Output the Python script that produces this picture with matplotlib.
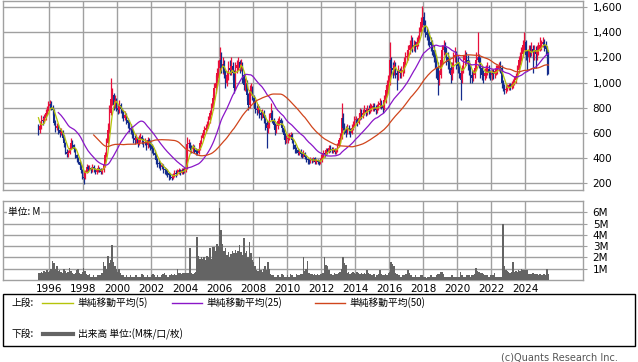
import numpy as np
import pandas as pd
import matplotlib
matplotlib.use("Agg")
import matplotlib.pyplot as plt
from matplotlib.patches import Rectangle
from matplotlib.lines import Line2D

plt.rcParams["font.family"] = ["DejaVu Sans", "Noto Sans CJK JP"]

# monthly bars, first month = 1994-07 (first 10 months only feed the moving averages)
start_year = 1994.5
first_shown = 10

close = [
    880, 900, 920, 890, 870, 860,
    840, 780, 700, 660, 620, 650, 700, 690, 720, 760, 780, 810,
    830, 800, 780, 680, 640, 650, 620, 600, 610, 560, 520, 450,
    430, 440, 480, 520, 500, 470, 420, 400, 370, 340, 300, 250,
    240, 290, 330, 310, 320, 300, 330, 310, 290, 300, 320, 310,
    290, 300, 340, 420, 520, 620, 760, 870, 900, 820, 860, 800,
    780, 820, 790, 760, 720, 740, 700, 680, 640, 620, 600, 560,
    540, 560, 520, 550, 570, 540, 520, 530, 500, 540, 520, 500,
    470, 440, 420, 380, 360, 350, 330, 340, 310, 300, 290, 280,
    260, 250, 240, 260, 280, 270, 290, 300, 280, 300, 290, 310,
    320, 510, 520, 480, 470, 490, 460, 450, 440, 470, 520, 560,
    600, 620, 640, 660, 700, 760, 800, 880, 960, 1000, 1080, 1120,
    1180, 1120, 1150, 1080, 1000, 1060, 1120, 1100, 1130, 1080, 960, 1120,
    1140, 1160, 1120, 1150, 1060, 980, 1000, 900, 820, 940, 960, 880,
    840, 790, 780, 800, 760, 740, 760, 720, 680, 640, 660, 720,
    760, 700, 660, 620, 650, 690, 700, 680, 640, 580, 540, 550,
    560, 570, 580, 540, 500, 470, 460, 440, 450, 430, 420, 440,
    410, 390, 380, 370, 390, 380, 400, 370, 380, 370, 360, 380,
    420, 440, 430, 460, 450, 480, 470, 460, 470, 450, 460, 500,
    540, 560, 720, 640, 620, 600, 640, 620, 600, 640, 660, 700,
    700, 680, 720, 760, 740, 760, 780, 760, 790, 780, 800, 800,
    810, 800, 780, 800, 820, 840, 820, 800, 860, 940, 980, 1000,
    1180, 1120, 1100, 1140, 1080, 1060, 1100, 1080, 1090, 1100, 1160, 1200,
    1210, 1260, 1300, 1320, 1280, 1300, 1280, 1320, 1340, 1400, 1480, 1520,
    1460, 1400, 1380, 1360, 1320, 1300, 1260, 1200, 1180, 1120, 1020, 1060,
    1180, 1260, 1290, 1240, 1200, 1160, 1120, 1060, 1100, 1200, 1220, 1150,
    1130, 1080, 1020, 1100, 1180, 1210, 1180, 1160, 1100, 1060, 1040, 1060,
    1120, 1180, 1200, 1160, 1120, 1060, 1050, 1080, 1100, 1110, 1080, 1060,
    1080, 1070, 1090, 1100, 1110, 1130, 1120, 1000, 960, 940, 950, 960,
    980, 970, 990, 1000, 1020, 1050, 1100, 1180, 1200, 1230, 1300, 1320,
    1220, 1200, 1260, 1250, 1270, 1240, 1260, 1230, 1260, 1270, 1300, 1310,
    1320, 1300, 1270, 1250, 1090,
]

high = [
    900, 930, 950, 930, 900, 880,
    870, 850, 790, 710, 670, 690, 740, 730, 750, 790, 810, 850,
    864, 850, 820, 790, 700, 680, 670, 640, 640, 620, 580, 530,
    470, 460, 500, 560, 540, 510, 480, 430, 410, 380, 350, 310,
    270, 300, 350, 340, 340, 330, 350, 340, 320, 320, 340, 330,
    320, 320, 360, 450, 560, 680, 820, 1040, 960, 920, 900, 880,
    830, 860, 840, 800, 780, 770, 760, 720, 700, 670, 650, 620,
    580, 590, 570, 580, 600, 580, 560, 560, 540, 570, 560, 540,
    510, 490, 460, 430, 400, 380, 370, 360, 350, 330, 320, 310,
    290, 280, 270, 280, 300, 300, 310, 320, 310, 320, 320, 330,
    340, 568, 550, 530, 500, 510, 500, 480, 470, 490, 540, 580,
    620, 650, 670, 690, 730, 780, 840, 910, 1000, 1060, 1120, 1180,
    1280, 1240, 1200, 1180, 1100, 1090, 1170, 1180, 1200, 1160, 1100, 1160,
    1180, 1200, 1180, 1190, 1160, 1080, 1040, 1020, 920, 980, 1000, 970,
    900, 860, 820, 830, 810, 780, 790, 780, 740, 700, 690, 760,
    840, 780, 720, 680, 670, 720, 730, 720, 700, 650, 600, 580,
    590, 600, 610, 600, 550, 510, 490, 480, 470, 470, 450, 460,
    450, 420, 400, 400, 410, 400, 410, 410, 390, 390, 380, 400,
    440, 460, 460, 480, 480, 500, 500, 490, 490, 480, 480, 520,
    560, 600, 840, 760, 680, 650, 670, 660, 640, 670, 690, 730,
    730, 720, 760, 800, 790, 790, 820, 800, 820, 820, 840, 830,
    840, 840, 820, 830, 850, 880, 860, 840, 900, 980, 1020, 1060,
    1320, 1200, 1160, 1180, 1160, 1100, 1140, 1120, 1130, 1140, 1200, 1240,
    1260, 1300, 1340, 1380, 1360, 1340, 1330, 1360, 1380, 1440, 1520, 1608,
    1560, 1500, 1440, 1420, 1400, 1360, 1340, 1300, 1260, 1220, 1160, 1100,
    1220, 1300, 1340, 1320, 1280, 1240, 1200, 1160, 1160, 1240, 1280, 1250,
    1200, 1160, 1120, 1140, 1220, 1260, 1240, 1220, 1180, 1140, 1100, 1100,
    1160, 1240, 1400, 1230, 1200, 1140, 1100, 1120, 1140, 1160, 1140, 1100,
    1110, 1110, 1120, 1140, 1140, 1160, 1170, 1140, 1020, 990, 980, 990,
    1000, 1000, 1010, 1030, 1050, 1080, 1140, 1210, 1240, 1280, 1340, 1400,
    1340, 1260, 1300, 1300, 1320, 1300, 1300, 1290, 1300, 1320, 1360, 1340,
    1360, 1350, 1330, 1290, 1260,
]

low = [
    850, 870, 890, 870, 850, 840,
    820, 760, 680, 640, 580, 600, 630, 660, 680, 700, 740, 770,
    790, 780, 740, 660, 610, 620, 590, 570, 580, 540, 490, 430,
    410, 410, 430, 470, 480, 450, 400, 370, 350, 320, 280, 230,
    190, 230, 280, 290, 300, 280, 290, 290, 270, 270, 290, 290,
    270, 270, 290, 330, 410, 510, 600, 740, 820, 780, 800, 770,
    750, 760, 760, 720, 690, 700, 670, 640, 610, 590, 560, 520,
    510, 520, 490, 500, 530, 510, 490, 500, 460, 480, 490, 460,
    440, 420, 390, 350, 330, 320, 300, 310, 280, 270, 260, 250,
    224, 230, 220, 230, 250, 250, 260, 270, 260, 270, 270, 280,
    290, 310, 480, 460, 440, 450, 440, 420, 420, 430, 460, 510,
    550, 580, 600, 620, 640, 680, 740, 780, 860, 920, 970, 1040,
    1080, 1080, 1070, 1040, 960, 970, 1020, 1060, 1060, 1020, 920, 940,
    1080, 1100, 1080, 1090, 1000, 940, 930, 860, 780, 800, 900, 860,
    800, 760, 740, 760, 720, 700, 720, 680, 620, 480, 600, 640,
    700, 680, 640, 580, 600, 630, 660, 650, 610, 550, 510, 520,
    520, 540, 550, 520, 470, 440, 440, 420, 420, 410, 400, 410,
    390, 370, 350, 350, 360, 360, 370, 350, 350, 350, 340, 350,
    370, 400, 410, 420, 430, 440, 450, 440, 440, 430, 430, 450,
    490, 520, 550, 620, 590, 570, 590, 590, 570, 590, 620, 650,
    660, 650, 670, 700, 710, 720, 740, 730, 740, 750, 760, 770,
    770, 770, 750, 760, 780, 800, 790, 760, 780, 840, 900, 940,
    980, 1060, 1040, 1060, 1040, 940, 1020, 1040, 1040, 1050, 1080, 1140,
    1160, 1180, 1230, 1260, 1240, 1250, 1240, 1270, 1290, 1320, 1380, 1440,
    1400, 1360, 1340, 1300, 1280, 1250, 1220, 1160, 1120, 1040, 904, 980,
    1040, 1140, 1220, 1200, 1140, 1110, 1080, 1000, 1020, 1080, 1160, 1110,
    1080, 1040, 864, 1000, 1080, 1140, 1140, 1100, 1060, 1000, 1000, 1010,
    1040, 1100, 1160, 1120, 1040, 1020, 1000, 1020, 1040, 1060, 1040, 1020,
    1020, 1030, 1040, 1060, 1070, 1090, 1080, 960, 930, 910, 920, 930,
    940, 940, 950, 960, 980, 1000, 1040, 1080, 1140, 1170, 1210, 1260,
    1180, 1100, 1160, 1200, 1210, 1080, 1180, 1120, 1180, 1220, 1250, 1260,
    1280, 1250, 1220, 1060, 1070,
]

# volume in millions of shares
volume = [
    0.6, 0.6, 0.6, 0.6, 0.6, 0.6,
    0.6, 0.6, 0.6, 0.6, 0.6, 0.6, 0.7, 0.6, 0.8, 0.7, 0.9, 0.7,
    0.8, 1.0, 1.7, 1.5, 1.0, 1.2, 0.8, 0.9, 0.7, 0.6, 1.0, 0.8,
    0.6, 0.7, 1.1, 0.8, 0.6, 0.5, 0.6, 0.9, 1.0, 0.6, 0.5, 0.7,
    1.1, 0.8, 0.5, 0.4, 0.5, 0.3, 0.3, 0.4, 0.3, 0.3, 0.4, 0.4,
    0.4, 0.6, 1.6, 1.2, 1.0, 2.1, 1.5, 1.8, 3.1, 1.6, 1.2, 1.0,
    0.7, 1.0, 0.6, 0.4, 0.4, 0.3, 0.4, 0.3, 0.3, 0.4, 0.3, 0.3,
    0.3, 0.4, 0.3, 0.3, 0.3, 0.5, 0.4, 0.3, 0.3, 0.4, 0.3, 0.3,
    0.4, 0.5, 0.4, 0.3, 0.4, 0.3, 0.3, 0.4, 0.5, 0.6, 0.4, 0.3,
    0.3, 0.4, 0.5, 0.4, 0.5, 0.4, 1.0, 0.6, 0.6, 0.5, 0.6, 0.6,
    0.6, 0.6, 0.6, 2.8, 0.6, 0.5, 0.6, 0.7, 3.8, 2.1, 1.9, 2.0,
    1.9, 2.0, 1.8, 2.1, 2.0, 2.8, 1.9, 2.9, 2.9, 2.6, 3.2, 3.0,
    6.4, 4.4, 3.2, 2.6, 2.8, 2.2, 2.5, 2.0, 2.3, 2.6, 2.4, 2.7,
    2.4, 2.6, 3.1, 2.5, 2.2, 3.7, 2.4, 2.6, 2.0, 3.4, 2.4, 1.8,
    1.6, 1.2, 0.9, 0.8, 2.0, 0.9, 0.7, 1.0, 1.2, 0.9, 1.6, 1.0,
    0.5, 0.4, 0.4, 0.3, 0.3, 0.4, 0.3, 0.3, 0.5, 0.4, 0.3, 0.3,
    0.4, 0.3, 0.5, 0.4, 0.3, 0.3, 0.5, 0.4, 0.4, 0.5, 0.5, 2.0,
    0.8, 1.0, 1.7, 0.6, 0.5, 0.5, 0.4, 0.5, 0.4, 0.5, 0.4, 0.5,
    0.5, 0.6, 2.0, 1.3, 1.2, 0.9, 0.5, 0.5, 0.4, 0.6, 0.5, 0.5,
    0.6, 0.7, 1.0, 2.0, 1.5, 1.3, 0.6, 0.7, 0.5, 0.6, 0.7, 0.6,
    0.5, 0.7, 0.6, 0.5, 0.6, 0.5, 0.6, 0.5, 0.9, 0.6, 0.5, 0.4,
    0.4, 0.5, 0.3, 0.4, 0.5, 0.9, 0.5, 0.4, 0.4, 0.5, 0.4, 0.6,
    0.7, 1.6, 1.4, 1.2, 0.6, 0.5, 0.4, 0.4, 0.3, 0.4, 0.4, 0.5,
    0.5, 0.9, 0.6, 0.4, 0.3, 0.3, 0.4, 0.3, 0.3, 0.3, 0.4, 0.4,
    0.3, 0.3, 0.2, 0.3, 0.3, 0.4, 0.3, 0.3, 0.3, 0.4, 0.5, 0.5,
    0.7, 0.7, 0.5, 0.3, 0.3, 0.3, 0.3, 0.3, 0.4, 0.3, 0.3, 0.3,
    0.3, 0.3, 0.7, 0.4, 0.3, 0.3, 0.4, 0.4, 0.4, 0.3, 0.4, 0.4,
    0.5, 1.1, 0.8, 0.7, 0.6, 0.6, 0.5, 0.4, 0.4, 0.4, 0.3, 0.4,
    0.4, 0.4, 0.6, 0.3, 0.3, 0.3, 0.3, 0.3, 5.0, 1.2, 0.9, 0.8,
    0.7, 0.6, 0.7, 1.6, 0.7, 0.8, 0.7, 0.9, 0.8, 1.0, 0.9, 0.9,
    0.9, 0.9, 0.5, 0.5, 0.5, 0.6, 0.5, 0.5, 0.5, 0.4, 0.5, 0.4,
    0.4, 0.5, 0.4, 1.0, 0.5,
]

ma_windows = [5, 25, 50]
ma_colors = ["#b5c40a", "#8a16c8", "#d0451c"]
ma_labels = ["単純移動平均(5)", "単純移動平均(25)", "単純移動平均(50)"]
year_ticks = list(range(1996, 2025, 2))
price_ticks = [200, 400, 600, 800, 1000, 1200, 1400, 1600]
vol_ticks = [1, 2, 3, 4, 5, 6]

grid_c = "#a0a0a0"
up_c = "#e8103c"
down_c = "#142c8c"

c = np.array(close, dtype=float)
o = np.r_[c[0], c[:-1]]
h = np.maximum(np.array(high, dtype=float), np.maximum(o, c))
l = np.minimum(np.array(low, dtype=float), np.minimum(o, c))
x = start_year + np.arange(len(c)) / 12 + 1 / 24
v = np.array(volume)

fig = plt.figure(figsize=(6.38, 3.62), dpi=100)
ax = fig.add_axes([3 / 638, 1 - 190 / 362, 580 / 638, 189 / 362])
axv = fig.add_axes([3 / 638, 1 - 280 / 362, 580 / 638, 79 / 362])

s = slice(first_shown, None)
xs, os_, cs, hs, ls = x[s], o[s], c[s], h[s], l[s]
up = cs >= os_
cols = np.where(up, up_c, down_c)
ax.vlines(xs, ls, hs, colors=cols, lw=0.9, zorder=3)
ax.bar(xs, np.maximum(np.abs(cs - os_), 6), bottom=np.minimum(cs, os_),
       width=1 / 12, color=cols, lw=0, zorder=3)

for n, col in zip(ma_windows, ma_colors):
    ma = pd.Series(c).rolling(n).mean().to_numpy()
    ax.plot(x[s], ma[s], color=col, lw=0.9, zorder=4)

for a in (ax, axv):
    a.set_xlim(1993.29, 2027.41)
    a.set_xticks(year_ticks)
    a.grid(color=grid_c, lw=1)
    a.set_axisbelow(True)
    for sp in a.spines.values():
        sp.set_color(grid_c)
        sp.set_linewidth(1)
    a.yaxis.tick_right()
    a.tick_params(axis="y", length=3, color=grid_c, labelsize=7.5, pad=4)
    a.tick_params(axis="x", length=0, labelsize=7.5, pad=3)

ax.set_ylim(144, 1650)
ax.set_yticks(price_ticks)
ax.set_yticklabels([f"{t:,}" for t in price_ticks])
ax.set_xticklabels([])

axv.bar(x[s], v[s], width=1 / 12, color="#646464", lw=0, zorder=3)
axv.set_ylim(0, 7)
axv.set_yticks(vol_ticks)
axv.set_yticklabels([f"{t}M" for t in vol_ticks])
axv.set_xticklabels([str(y) for y in year_ticks])
axv.text(0.008, 0.93, "単位: M", transform=axv.transAxes, fontsize=7,
         va="top", ha="left", family=["Noto Sans CJK JP"],
         bbox=dict(facecolor="white", edgecolor="none", pad=0.5), zorder=5)

# legend box
W, H = 638, 362
fig.patches.append(Rectangle((3 / W, 1 - 346 / H), 632 / W, 52 / H,
                             transform=fig.transFigure, fill=False,
                             edgecolor="black", lw=1))
jp = ["Noto Sans CJK JP"]
y1 = 1 - 303 / H
y2 = 1 - 334 / H
fig.text(11 / W, y1, "上段:", fontsize=7, va="center", family=jp)
line_x = [(42, 73, 77), (172, 202, 206), (315, 345, 349)]
for (x0, x1, tx), col, lab in zip(line_x, ma_colors, ma_labels):
    fig.add_artist(Line2D([x0 / W, x1 / W], [y1, y1], color=col, lw=1,
                          transform=fig.transFigure))
    fig.text(tx / W, y1, lab, fontsize=7, va="center", family=jp)
fig.text(11 / W, y2, "下段:", fontsize=7, va="center", family=jp)
fig.add_artist(Line2D([43 / W, 73 / W], [y2, y2], color="#646464", lw=3,
                      transform=fig.transFigure))
fig.text(78 / W, y2, "出来高 単位:(M株/口/枚)", fontsize=7, va="center", family=jp)
fig.text(618 / W, 1 - 357 / H, "(c)Quants Research Inc.", fontsize=7,
         ha="right", va="center", color="#555555")

fig.savefig("out.png", dpi=100)
